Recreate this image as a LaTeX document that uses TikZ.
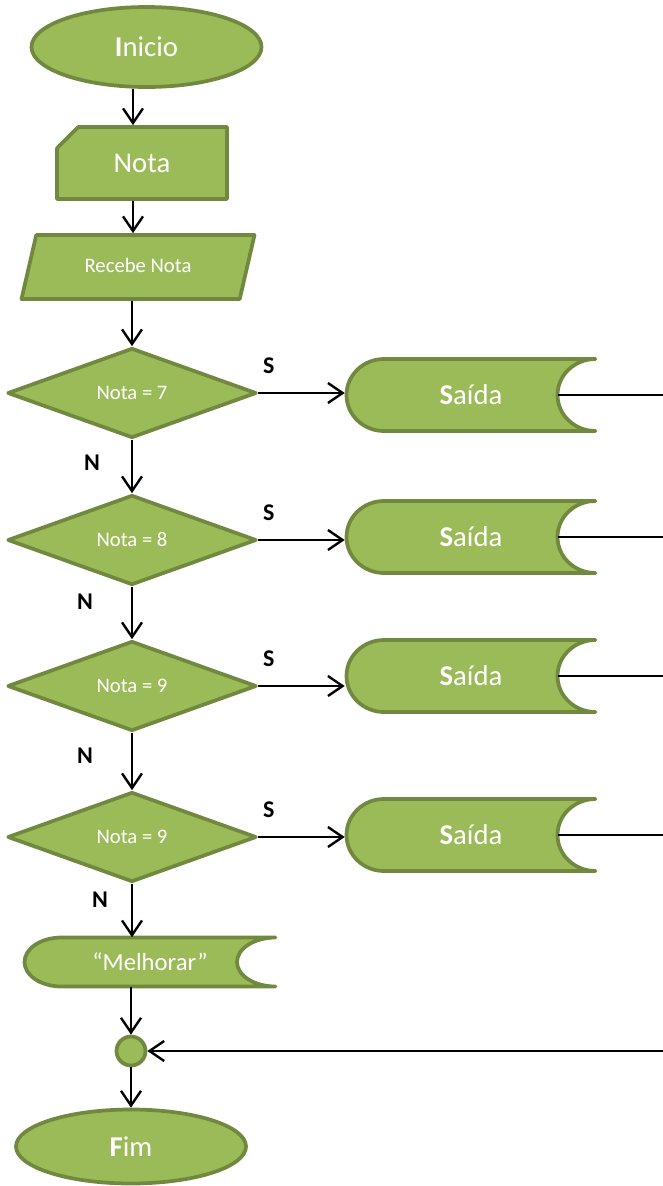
\documentclass[tikz,border=0pt]{standalone}
\usepackage{fontspec}
\setmainfont{Carlito}
\usetikzlibrary{shapes.geometric,shapes.misc,arrows.meta,calc}
\definecolor{leaf}{HTML}{9BBB59}
\definecolor{leafdark}{HTML}{71893F}
\begin{document}
\begin{tikzpicture}[
    x=0.75pt, y=0.75pt,
    blk/.style={fill=leaf, draw=leafdark, line width=2.8pt, text=white,
      inner sep=0pt, line join=round},
    term/.style={blk, ellipse, minimum width=172.5pt,
      font=\fontsize{21.5}{24}\selectfont},
    card/.style={blk, chamfered rectangle, chamfered rectangle corners=north west,
      chamfered rectangle xsep=9pt, chamfered rectangle ysep=9pt,
      minimum width=127.5pt, minimum height=54pt, font=\fontsize{21.5}{24}\selectfont},
    dataio/.style={blk, trapezium, trapezium left angle=77, trapezium right angle=103,
      trapezium stretches body, minimum width=174.75pt, text height=11pt,
      text depth=3pt, inner ysep=17pt, inner xsep=4pt,
      font=\fontsize{15.5}{18}\selectfont},
    decision/.style={blk, diamond, minimum width=186.75pt, minimum height=67.5pt,
      font=\fontsize{15.5}{18}\selectfont},
    tape/.style={fill=leaf, draw=leafdark, line width=2.8pt, line join=round,
      line cap=round},
    tapetxt/.style={text=white, inner sep=0pt},
    joint/.style={blk, circle, minimum size=21.75pt},
    flow/.style={-{Straight Barb[length=11pt,width=15pt]}, line width=1.8pt},
    wire/.style={line width=1.3pt},
    lbl/.style={font=\bfseries\fontsize{18}{21}\selectfont}
  ]
  \useasboundingbox (0,0) rectangle (663,-1186);
  \coordinate (spine) at (133,0);
  \coordinate (edge) at (663,0);

  \node[term, minimum height=60pt] (inicio) at (146.5,-47) {\textbf{I}nicio};
  \node[card] (nota) at (142,-163) {Nota};
  \node[dataio] (recebe) at (138,-267) {Recebe Nota};
  \draw[flow] (inicio.south -| spine) -- (nota.north -| spine);
  \draw[flow] (nota.south -| spine) -- (recebe.north -| spine);

  % one test per grade, each with its own output
  \foreach \i/\prev/\val/\dy/\sy/\nx/\ny in {%
    1/recebe/7/393/395/92/463,
    2/d1/8/540/537/85/602,
    3/d2/9/686/676/85/756,
    4/d3/9/837/835/100/900%
  }{
    \node[decision] (d\i) at (132,-\dy) {Nota = \val};
    \filldraw[tape] (595.5,-\sy+36) -- (384,-\sy+36)
      arc[start angle=90, end angle=270, x radius=37.5, y radius=36]
      -- (595.5,-\sy-36)
      arc[start angle=270, end angle=90, x radius=38, y radius=36] -- cycle;
    \node[tapetxt, minimum width=189pt, minimum height=54pt,
      font=\fontsize{21.5}{24}\selectfont] (s\i) at (471,-\sy) {\textbf{S}aída};
    \draw[flow] (\prev.south -| d\i.north) -- (d\i.north);
    \draw[flow] (d\i.east) -- (d\i.east -| s\i.west);
    \draw[wire] ($(s\i.east)+(-39,0)$) -- (s\i.east -| edge);
    \node[lbl] (sl\i) at ($(d\i.east)+(10.5,27)$) {S};
    \node[lbl] (nl\i) at (\nx,-\ny) {N};
  }

  \filldraw[tape] (275.5,-937.5) -- (61.5,-937.5)
    arc[start angle=90, end angle=270, x radius=37, y radius=24.5]
    -- (275.5,-986.5)
    arc[start angle=270, end angle=90, x radius=38.5, y radius=24.5] -- cycle;
  \node[tapetxt, minimum width=188.25pt, minimum height=36.75pt,
    font=\fontsize{18.5}{21}\selectfont] (melhorar) at (150,-962) {“Melhorar”};
  \draw[flow] (d4.south) -- (d4.south |- melhorar.north);

  \node[joint] (join) at (131,-1051) {};
  \node[term, minimum height=55.5pt] (fim) at (131,-1146.5) {\textbf{F}im};
  \draw[flow] (melhorar.south -| join.north) -- (join.north);
  \draw[flow] (join.east -| edge) -- (join.east);
  \draw[flow] (join.south) -- (fim.north);
\end{tikzpicture}
\end{document}
